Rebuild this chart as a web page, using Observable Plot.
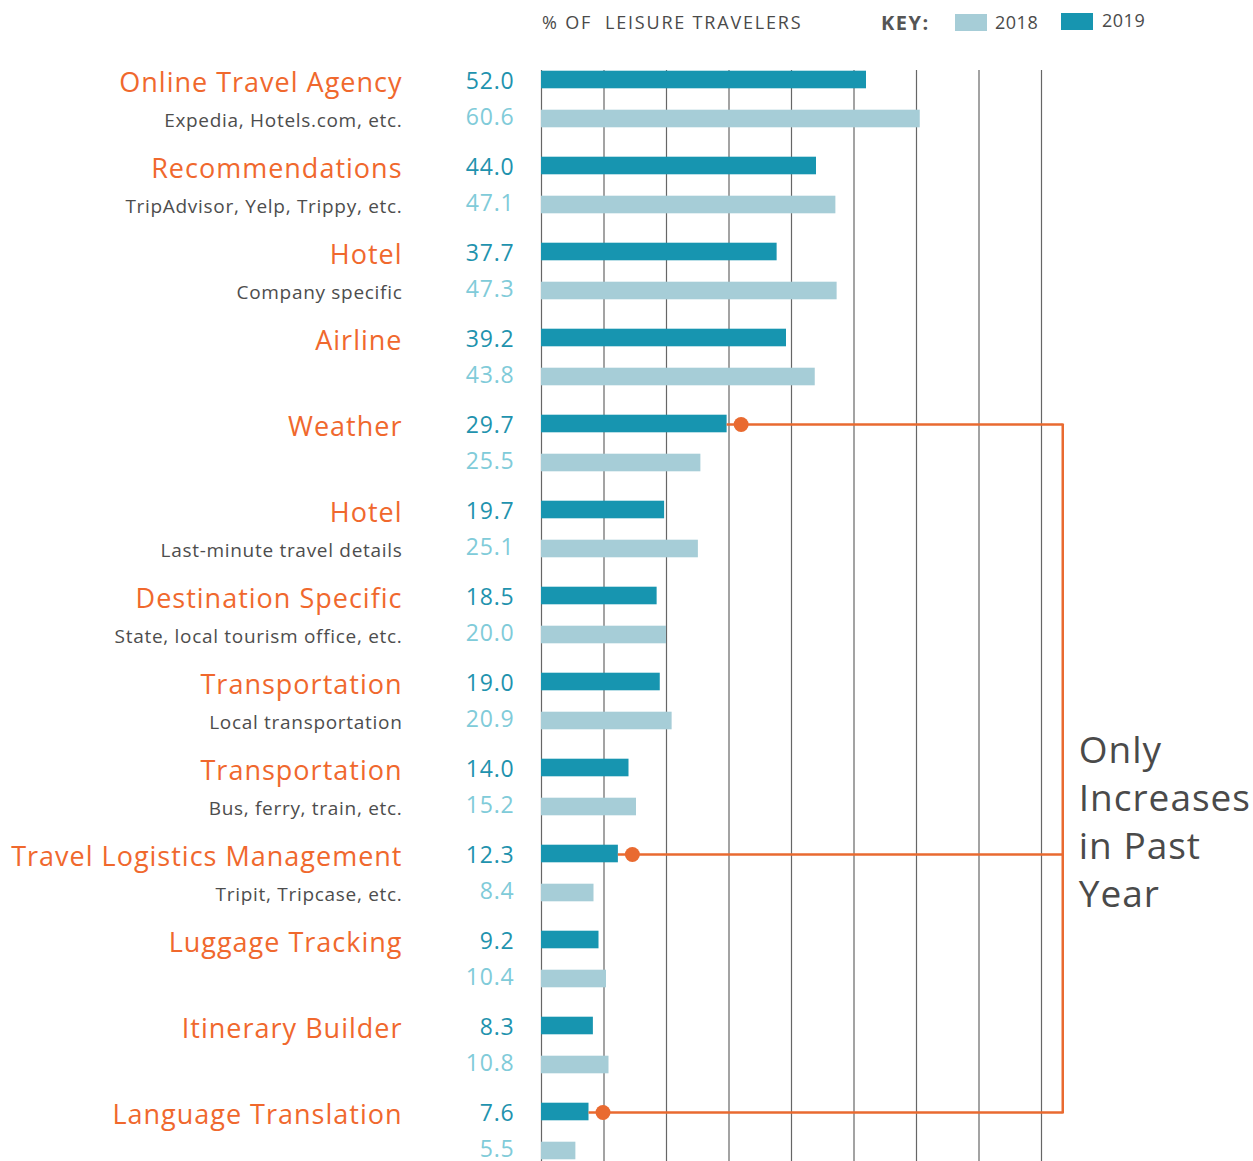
<!DOCTYPE html>
<html>
<head>
<meta charset="utf-8">
<script src="https://cdn.jsdelivr.net/npm/d3@7"></script>
<script src="https://cdn.jsdelivr.net/npm/@observablehq/plot@0.6"></script>
<style>
  body { margin: 0; background: #fff; font-family: "Open Sans", sans-serif; }
  #wrap { width: 1253px; }
  #head { position: relative; height: 50px; color: #4a4a4a; }
  #head span { position: absolute; white-space: pre; line-height: 1; }
  .sw { position: absolute; width: 32px; height: 17px; }
  #chart g[font-size="27"] { letter-spacing: 1px; }
  #chart g[font-size="19"] { letter-spacing: 0.7px; }
  #chart g[font-size="23"] { letter-spacing: 0.8px; }
  #chart g[font-size="37"] { letter-spacing: 1px; }
</style>
</head>
<body>
<div id="wrap">
  <div id="head">
    <span style="left:542px;top:13px;font-size:18px;letter-spacing:1.8px;">% OF  LEISURE TRAVELERS</span>
    <span style="left:881px;top:13px;font-size:20px;font-weight:700;letter-spacing:1.5px;color:#555;">KEY:</span>
    <div class="sw" style="left:955px;top:14px;background:#a6cdd7;"></div>
    <span style="left:995px;top:13px;font-size:18px;letter-spacing:0.5px;">2018</span>
    <div class="sw" style="left:1061px;top:13px;background:#1795b0;"></div>
    <span style="left:1102px;top:11px;font-size:18px;letter-spacing:0.5px;">2019</span>
  </div>
  <div id="chart"></div>
</div>
<script>
const ids = ["ota","rec","hotel1","airline","weather","hotel2","dest","trans1","trans2","tlm","lug","itin","lang"];
const names = ["Online Travel Agency","Recommendations","Hotel","Airline","Weather","Hotel","Destination Specific","Transportation","Transportation","Travel Logistics Management","Luggage Tracking","Itinerary Builder","Language Translation"];
const subs = ["Expedia, Hotels.com, etc.","TripAdvisor, Yelp, Trippy, etc.","Company specific","","","Last-minute travel details","State, local tourism office, etc.","Local transportation","Bus, ferry, train, etc.","Tripit, Tripcase, etc.","","",""];
const v2019 = [52.0,44.0,37.7,39.2,29.7,19.7,18.5,19.0,14.0,12.3,9.2,8.3,7.6];
const v2018 = [60.6,47.1,47.3,43.8,25.5,25.1,20.0,20.9,15.2,8.4,10.4,10.8,5.5];
const increased = ["weather","tlm","lang"];
const gridTicks = [0,10,20,30,40,50,60,70,80];
const annotX = 83.4;
const annotText = ["Only","Increases","in Past","Year"];

const rows = ids.map((id, i) => ({id, name: names[i], sub: subs[i], a: v2019[i], b: v2018[i]}));
const inc = rows.filter(d => increased.includes(d.id));

const ORANGE = "#f0682d";
const LINE_OR = "#e96a30";
const C19 = "#1795b0", C18 = "#a6cdd7";
const T19 = "#1f93ae", T18 = "#80cbd9";

const step = 86.33;
const y0 = 4.33;

const chart = Plot.plot({
  width: 1253,
  height: 1111,
  marginLeft: 541,
  marginRight: 212,
  marginTop: 20,
  marginBottom: 0,
  style: {fontFamily: "Open Sans, sans-serif", background: "#fff", overflow: "visible"},
  x: {domain: [0, 80], axis: null},
  y: {type: "band", domain: ids, range: [y0, y0 + step * ids.length], padding: 0, axis: null},
  marks: [
    Plot.ruleX(gridTicks, {stroke: "#666", strokeWidth: 1.2}),
    Plot.barX(rows, {x: "a", y: "id", fill: C19, insetTop: 14.7, insetBottom: 53.7}),
    Plot.barX(rows, {x: "b", y: "id", fill: C18, insetTop: 53.7, insetBottom: 14.7}),
    Plot.text(rows, {x: 0, y: "id", text: "name", textAnchor: "end", dx: -139, dy: -16, fill: ORANGE, fontSize: 27}),
    Plot.text(rows, {x: 0, y: "id", text: "sub", textAnchor: "end", dx: -139, dy: 21, fill: "#4d4d4d", fontSize: 19}),
    Plot.text(rows, {x: 0, y: "id", text: d => d.a.toFixed(1), textAnchor: "end", dx: -27, dy: -18, fill: T19, fontSize: 23}),
    Plot.text(rows, {x: 0, y: "id", text: d => d.b.toFixed(1), textAnchor: "end", dx: -27, dy: 18, fill: T18, fontSize: 23}),
    Plot.ruleY(inc, {y: "id", x1: "a", x2: () => annotX, dy: -19, stroke: LINE_OR, strokeWidth: 2.5}),
    Plot.line([inc[0], inc[inc.length - 1]], {x: () => annotX, y: "id", dy: -19, stroke: LINE_OR, strokeWidth: 2.5}),
    Plot.dot(inc, {x: "a", y: "id", dx: 14, dy: -19, r: 7.5, fill: LINE_OR, stroke: "none"}),
    Plot.text([annotText.join("\n")], {x: annotX, y: () => "trans2", textAnchor: "start", lineAnchor: "top", dx: 16, dy: -59, lineHeight: 1.3, fontSize: 37, fill: "#4a4a4a", text: d => d})
  ]
});
document.getElementById("chart").appendChild(chart);
</script>
</body>
</html>
